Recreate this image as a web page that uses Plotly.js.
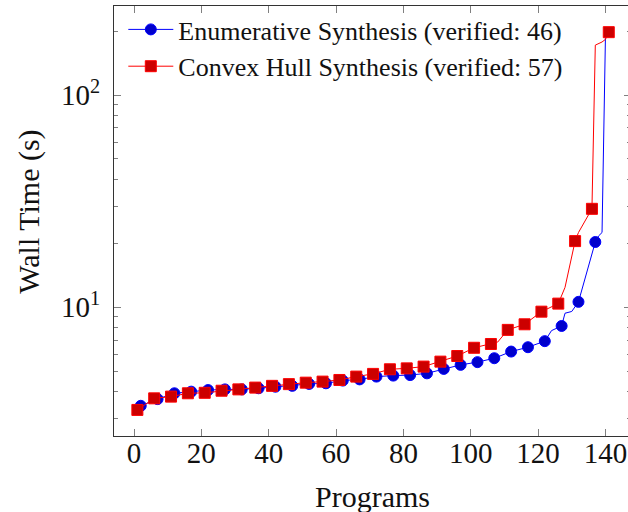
<!DOCTYPE html>
<html>
<head>
<meta charset="utf-8">
<script src="https://cdn.plot.ly/plotly-3.0.1.min.js"></script>
<style>
html, body { margin: 0; padding: 0; background: #ffffff; overflow: hidden; width: 628px; height: 512px; }
#chart { width: 640px; height: 512px; }
</style>
</head>
<body>
<div id="chart"></div>
<script>
// ---- data ----
const enumName = "Enumerative Synthesis (verified: 46)";
const hullName = "Convex Hull Synthesis (verified: 57)";

const enumX = [2, 7, 12, 17, 22, 27, 32, 37, 42, 47, 52, 57, 62, 67, 72, 77, 82, 87, 92, 97, 102, 107, 112, 117, 122, 124, 127, 128, 130, 132, 137, 138, 139, 140, 141];
const enumY = [3.43, 3.69, 3.93, 4.00, 4.07, 4.10, 4.10, 4.15, 4.22, 4.26, 4.35, 4.38, 4.51, 4.57, 4.71, 4.76, 4.79, 4.88, 5.12, 5.35, 5.51, 5.75, 6.18, 6.48, 6.92, 7.76, 8.16, 9.37, 9.55, 10.6, 20.3, 21.7, 22.5, 185, 197];

const hullX = [1, 6, 11, 16, 21, 26, 31, 36, 41, 46, 51, 56, 61, 66, 71, 76, 81, 86, 91, 96, 101, 106, 108, 111, 116, 121, 126, 128, 131, 132, 136, 137, 138, 139, 140, 141];
const hullY = [3.28, 3.72, 3.79, 3.93, 3.95, 4.04, 4.10, 4.18, 4.26, 4.34, 4.41, 4.46, 4.54, 4.71, 4.85, 5.10, 5.15, 5.25, 5.54, 5.89, 6.44, 6.71, 6.85, 7.82, 8.31, 9.53, 10.4, 12.4, 20.5, 22.5, 29.1, 172, 175, 178, 183, 198];

const xTicks = [0, 20, 40, 60, 80, 100, 120, 140];
const yTicks = [10, 100];
const yTickText = ["10<sup>1</sup>", "10<sup>2</sup>"];
const yMinor = [3, 4, 5, 6, 7, 8, 9, 20, 30, 40, 50, 60, 70, 80, 90, 200];
const xTitle = "Programs";
const yTitle = "Wall Time (s)";

// ---- styling (marks every 5th program, as in the source plot) ----
const FONT = "Liberation Serif, DejaVu Serif, serif";
const INK = "#111111";
function markColors(xs, phase, col) {
  return xs.map(x => (x % 5 === phase ? col : "rgba(0,0,0,0)"));
}

const traces = [
  {
    x: enumX, y: enumY, name: enumName, type: "scatter", mode: "lines+markers",
    line: { color: "#0000ff", width: 1 },
    marker: { symbol: "circle", size: 11,
      color: markColors(enumX, 2, "#0000cc"),
      line: { color: markColors(enumX, 2, "#0000ff"), width: 1 } }
  },
  {
    x: hullX, y: hullY, name: hullName, type: "scatter", mode: "lines+markers",
    line: { color: "#ff0000", width: 1 },
    marker: { symbol: "square", size: 11,
      color: markColors(hullX, 1, "#cc0000"),
      line: { color: markColors(hullX, 1, "#ff0000"), width: 1 } }
  }
];

const axisCommon = {
  showline: true, linecolor: "#333333", linewidth: 1, mirror: "ticks",
  ticks: "inside", ticklen: 7, tickwidth: 1, tickcolor: "#808080",
  showgrid: false, zeroline: false,
  tickfont: { family: FONT, size: 29, color: INK }
};

const layout = {
  width: 640, height: 512,
  margin: { l: 114, r: 9, t: 6, b: 76 },
  paper_bgcolor: "#ffffff", plot_bgcolor: "#ffffff",
  showlegend: true,
  legend: {
    x: 0.018, y: 1.0, xanchor: "left", yanchor: "top",
    bgcolor: "rgba(255,255,255,0)", borderwidth: 0,
    itemwidth: 45, tracegroupgap: 0,
    font: { family: FONT, size: 26, color: INK }
  },
  xaxis: Object.assign({}, axisCommon, {
    range: [-5.94, 147.6],
    tickmode: "array", tickvals: xTicks,
    ticklabelstandoff: -9
  }),
  yaxis: Object.assign({}, axisCommon, {
    type: "log",
    range: [0.393, 2.42],
    tickmode: "array", tickvals: yTicks, ticktext: yTickText,
    ticklabelstandoff: 7,
    minor: { tickmode: "array", tickvals: yMinor, ticks: "inside", ticklen: 4, tickcolor: "#808080", showgrid: false }
  }),
  annotations: [
    { text: xTitle, xref: "paper", yref: "paper", x: 0.5, y: -0.14, xanchor: "center", yanchor: "middle",
      showarrow: false, font: { family: FONT, size: 30, color: INK } },
    { text: yTitle, xref: "paper", yref: "paper", x: -0.165, y: 0.521, xanchor: "center", yanchor: "middle",
      textangle: -90, showarrow: false, font: { family: FONT, size: 30, color: INK } }
  ]
};

Plotly.newPlot("chart", traces, layout, { displayModeBar: false, staticPlot: true });
</script>
</body>
</html>
